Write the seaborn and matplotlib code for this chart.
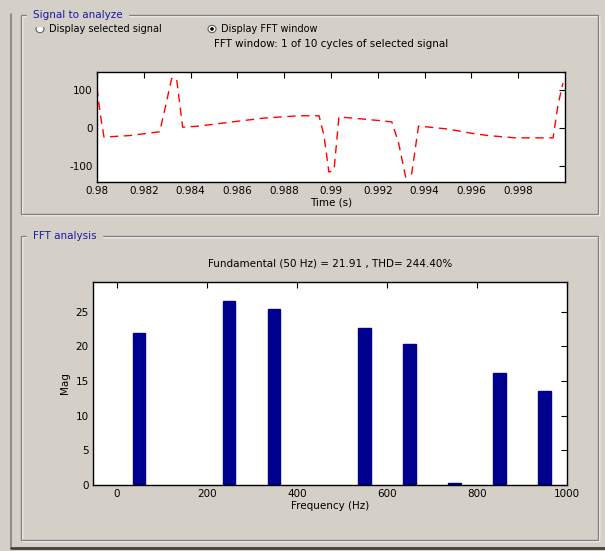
import numpy as np
import pandas as pd
import seaborn as sns
import matplotlib.pyplot as plt
from matplotlib.patches import Rectangle, Circle

# signal window (one cycle, 50 Hz)
time_s = [0.98000, 0.98013, 0.98030, 0.98140, 0.98268, 0.98294, 0.98319, 0.98340,
          0.98366, 0.98438, 0.98566, 0.98715, 0.98864, 0.98949, 0.98970, 0.98991,
          0.99013, 0.99034, 0.99162, 0.99260, 0.99289, 0.99319, 0.99345, 0.99374,
          0.99502, 0.99600, 0.99672, 0.99787, 0.99949, 0.99970, 0.99991]
signal = [105, 40, -24, -20, -10, 60, 130, 130,
          2, 5, 15, 26, 32, 32, -20, -116,
          -110, 29, 22, 16, -40, -129, -120, 5,
          -3, -14, -20, -26, -26, 60, 118]

# FFT harmonics
freq_hz = [50, 250, 350, 550, 650, 750, 850, 950]
mag = [21.91, 26.6, 25.4, 22.6, 20.3, 0.3, 16.1, 13.5]

time_ticks = [0.98, 0.982, 0.984, 0.986, 0.988, 0.99, 0.992, 0.994, 0.996, 0.998]
time_labels = ['0.98', '0.982', '0.984', '0.986', '0.988', '0.99', '0.992', '0.994', '0.996', '0.998']
freq_ticks = [0, 200, 400, 600, 800, 1000]
mag_ticks = [0, 5, 10, 15, 20, 25]

W, H = 605, 551
GRAY = '#d4d0c8'
BLUE = '#1a1aa6'

sns.set_style('white')
plt.rcParams['font.family'] = ['DejaVu Sans']
plt.rcParams['font.size'] = 7.5
plt.rcParams['text.color'] = 'black'
plt.rcParams['axes.labelcolor'] = 'black'
plt.rcParams['xtick.color'] = 'black'
plt.rcParams['ytick.color'] = 'black'

fig = plt.figure(figsize=(W / 100, H / 100), dpi=100, facecolor=GRAY)


def box(x0, y0, x1, y1):
    # rectangle in pixel coords (top-left origin) -> figure fraction
    return (x0 / W, 1 - y1 / H), (x1 - x0) / W, (y1 - y0) / H


def frame(x0, y0, x1, y1, title):
    (fx, fy), fw, fh = box(x0 + 1, y0 + 1, x1 + 1, y1 + 1)
    fig.add_artist(Rectangle((fx, fy), fw, fh, transform=fig.transFigure,
                             fill=False, ec='white', lw=1))
    (fx, fy), fw, fh = box(x0, y0, x1, y1)
    fig.add_artist(Rectangle((fx, fy), fw, fh, transform=fig.transFigure,
                             fill=False, ec='#808080', lw=1))
    fig.text((x0 + 12) / W, 1 - y0 / H, title, color=BLUE, fontsize=7.5,
             va='center', ha='left', backgroundcolor=GRAY)


# outer window edges
fig.add_artist(plt.Line2D([11 / W, 11 / W], [0.005, 1 - 14 / H], color='#808080', lw=1.2))
fig.add_artist(plt.Line2D([11 / W, 1], [1 - 548 / H, 1 - 548 / H], color='#404040', lw=2))

frame(21, 15, 598, 214, 'Signal to analyze')
frame(21, 236, 598, 540, 'FFT analysis')

# radio buttons
for cx, label, sel in [(40, 'Display selected signal', False), (212, 'Display FFT window', True)]:
    fig.add_artist(Circle((cx / W, 1 - 29 / H), 4 / W, transform=fig.transFigure,
                          fc='white', ec='#606060', lw=0.8))
    if sel:
        fig.add_artist(Circle((cx / W, 1 - 29 / H), 1.5 / W, transform=fig.transFigure,
                              fc='black', ec='black', lw=0.5))
    fig.text((cx + 9) / W, 1 - 29 / H, label, fontsize=7, va='center', ha='left')

# top axes: signal
(ax_x, ax_y), ax_w, ax_h = box(97, 72, 565, 182)
ax1 = fig.add_axes([ax_x, ax_y, ax_w, ax_h])
df_sig = pd.DataFrame({'Time': time_s, 'Signal': signal})
sns.lineplot(data=df_sig, x='Time', y='Signal', ax=ax1, color='red', lw=1)
ax1.lines[0].set_dashes((6, 4))
ax1.set_xlim(0.98, 1.0)
ax1.set_ylim(-142, 147)
ax1.set_xticks(time_ticks)
ax1.set_xticklabels(time_labels)
ax1.set_yticks([100, 0, -100])
ax1.set_yticklabels(['100', '0', '-100'])
ax1.set_xlabel('Time (s)', labelpad=1)
ax1.set_ylabel('')
ax1.set_title('FFT window: 1 of 10 cycles of selected signal', fontsize=7.5, pad=18)

# bottom axes: spectrum
(ax_x, ax_y), ax_w, ax_h = box(93, 282, 567, 485)
ax2 = fig.add_axes([ax_x, ax_y, ax_w, ax_h])
df_fft = pd.DataFrame({'Frequency': freq_hz, 'Mag': mag})
sns.barplot(data=df_fft, x='Frequency', y='Mag', ax=ax2, native_scale=True,
            color='#00008f', saturation=1, width=0.27, edgecolor='#00008f')
ax2.set_xlim(-53, 1000)
ax2.set_ylim(0, 29.3)
ax2.set_xticks(freq_ticks)
ax2.set_yticks(mag_ticks)
ax2.set_xlabel('Frequency (Hz)', labelpad=1)
ax2.set_ylabel('Mag', labelpad=4)
ax2.set_title('Fundamental (50 Hz) = 21.91 , THD= 244.40%', fontsize=7.5, pad=11)

for ax in (ax1, ax2):
    ax.set_facecolor('white')
    for s in ax.spines.values():
        s.set_color('black')
        s.set_linewidth(1)
    ax.tick_params(direction='in', top=True, right=True, length=4, width=0.8,
                   labelsize=7.5, pad=3)

fig.savefig('out.png', dpi=100, facecolor=GRAY)
